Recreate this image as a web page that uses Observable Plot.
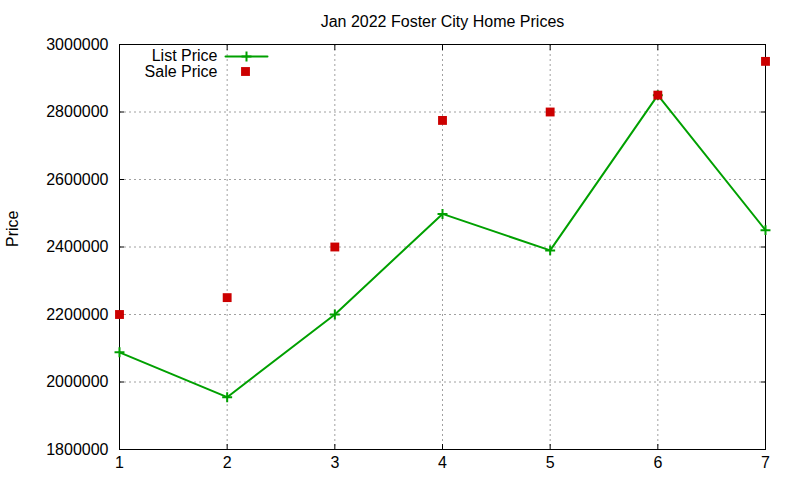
<!DOCTYPE html>
<html>
<head>
<meta charset="utf-8">
<script src="https://cdn.jsdelivr.net/npm/d3@7"></script>
<script src="https://cdn.jsdelivr.net/npm/@observablehq/plot@0.6"></script>
<style>
  html, body { margin: 0; padding: 0; background: #fff; }
  svg { display: block; }
</style>
</head>
<body>
<div id="chart"></div>
<script>
const title = ["Jan 2022 Foster City Home Prices"];
const yLabel = ["Price"];
const seriesNames = ["List Price", "Sale Price"];
const months = [1, 2, 3, 4, 5, 6, 7];
const listPrice = [2088000, 1955000, 2200000, 2498000, 2390000, 2850000, 2450000];
const salePrice = [2200000, 2250000, 2400000, 2775000, 2800000, 2850000, 2950000];
const xTicks = [1, 2, 3, 4, 5, 6, 7];
const yTicks = [1800000, 2000000, 2200000, 2400000, 2600000, 2800000, 3000000];

const listData = months.map((m, i) => ({x: m, y: listPrice[i]}));
const saleData = months.map((m, i) => ({x: m, y: salePrice[i]}));

const GREEN = "#00a000";
const RED = "#cc0000";
const lineShape = {draw(context, l) { context.moveTo(0, 0); context.lineTo(0, -l); }};

const chart = Plot.plot({
  width: 800,
  height: 480,
  marginLeft: 119,
  marginRight: 35,
  marginTop: 44,
  marginBottom: 31,
  style: {fontFamily: "'Liberation Sans', Arial, sans-serif", fontSize: "16px", color: "#000", background: "#fff"},
  x: {domain: [1, 7]},
  y: {domain: [1800000, 3000000]},
  marks: [
    Plot.gridX(xTicks, {stroke: "#a0a0a0", strokeOpacity: 1, strokeDasharray: "2,3"}),
    Plot.gridY(yTicks, {stroke: "#a0a0a0", strokeOpacity: 1, strokeDasharray: "2,3"}),
    Plot.axisY(yTicks, {anchor: "left", tickSize: -5, tickPadding: 16, tickFormat: d3.format("d"), label: null, fontSize: 16}),
    Plot.axisY(yTicks, {anchor: "right", tickSize: -5, tickFormat: () => "", label: null}),
    Plot.axisX(xTicks, {anchor: "bottom", tickSize: -5, tickPadding: 12, tickFormat: d3.format("d"), label: null, fontSize: 16}),
    Plot.axisX(xTicks, {anchor: "top", tickSize: -5, tickFormat: () => "", label: null}),
    Plot.frame({stroke: "#000", strokeWidth: 1}),
    Plot.line(listData, {x: "x", y: "y", stroke: GREEN, strokeWidth: 2}),
    Plot.dot(listData, {x: "x", y: "y", symbol: "plus", r: 3.3, stroke: GREEN, strokeWidth: 2}),
    Plot.dot(saleData, {x: "x", y: "y", symbol: "square", r: 5, fill: RED, stroke: "none"}),
    // title
    Plot.text(title, {frameAnchor: "top", dy: -23, lineAnchor: "middle", fontSize: 16}),
    // y label
    Plot.text(yLabel, {frameAnchor: "left", dx: -107, rotate: -90, lineAnchor: "middle", fontSize: 16}),
    // legend
    Plot.text([seriesNames[0]], {frameAnchor: "top-left", dx: 98, dy: 11, textAnchor: "end", lineAnchor: "middle", fontSize: 16}),
    Plot.vector([0], {frameAnchor: "top-left", dx: 106, dy: 12, rotate: 90, length: 42, anchor: "start", shape: lineShape, stroke: GREEN, strokeWidth: 2}),
    Plot.dot([0], {frameAnchor: "top-left", dx: 127, dy: 12, symbol: "plus", r: 3.3, stroke: GREEN, strokeWidth: 2}),
    Plot.text([seriesNames[1]], {frameAnchor: "top-left", dx: 98, dy: 27, textAnchor: "end", lineAnchor: "middle", fontSize: 16}),
    Plot.dot([0], {frameAnchor: "top-left", dx: 126, dy: 27, symbol: "square", r: 5, fill: RED, stroke: "none"})
  ]
});
document.getElementById("chart").appendChild(chart);
</script>
</body>
</html>
